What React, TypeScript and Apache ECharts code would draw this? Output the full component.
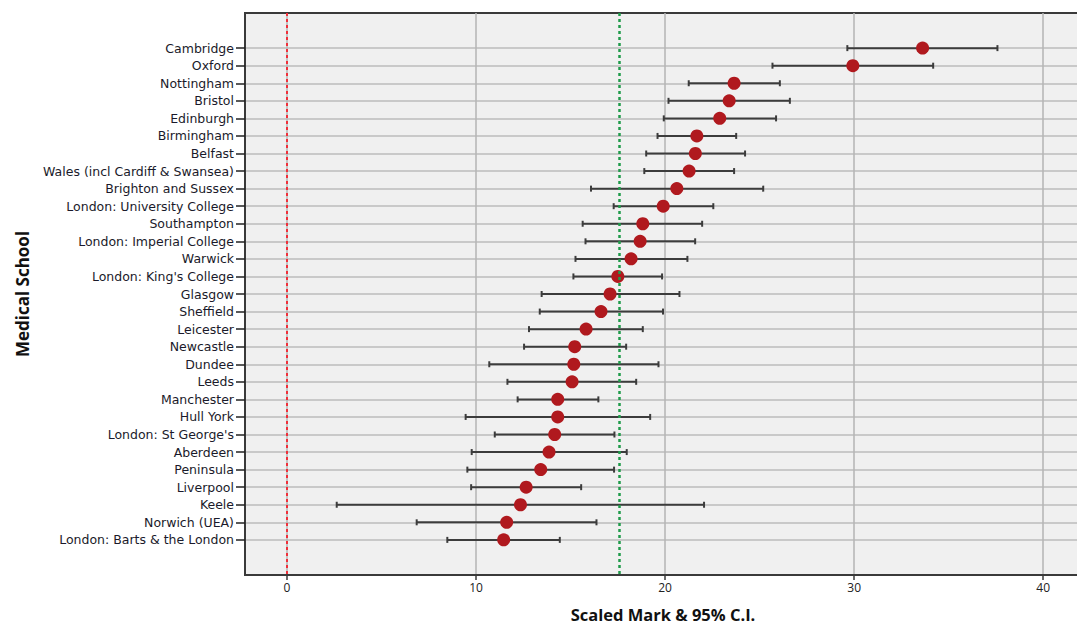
import React, { useEffect, useRef } from "react";
import * as echarts from "echarts";

const schools = [
  "Cambridge",
  "Oxford",
  "Nottingham",
  "Bristol",
  "Edinburgh",
  "Birmingham",
  "Belfast",
  "Wales (incl Cardiff & Swansea)",
  "Brighton and Sussex",
  "London: University College",
  "Southampton",
  "London: Imperial College",
  "Warwick",
  "London: King's College",
  "Glasgow",
  "Sheffield",
  "Leicester",
  "Newcastle",
  "Dundee",
  "Leeds",
  "Manchester",
  "Hull York",
  "London: St George's",
  "Aberdeen",
  "Peninsula",
  "Liverpool",
  "Keele",
  "Norwich (UEA)",
  "London: Barts & the London",
];

const means = [
  33.62, 29.93, 23.65, 23.39, 22.89, 21.68, 21.6, 21.27, 20.62, 19.9, 18.82,
  18.68, 18.2, 17.5, 17.09, 16.61, 15.82, 15.22, 15.17, 15.08, 14.32, 14.32,
  14.16, 13.86, 13.42, 12.65, 12.35, 11.62, 11.46,
];

const lower = [
  29.64, 25.68, 21.25, 20.18, 19.93, 19.6, 19.0, 18.9, 16.08, 17.28, 15.64,
  15.79, 15.26, 15.15, 13.47, 13.37, 12.8, 12.54, 10.7, 11.66, 12.2, 9.45,
  10.99, 9.77, 9.54, 9.74, 2.63, 6.86, 8.48,
];

const upper = [
  37.58, 34.18, 26.07, 26.6, 25.87, 23.76, 24.23, 23.65, 25.19, 22.55, 21.96,
  21.59, 21.18, 19.84, 20.76, 19.89, 18.82, 17.94, 19.65, 18.47, 16.47, 19.21,
  17.32, 17.97, 17.3, 15.56, 22.06, 16.37, 14.43,
];

const referenceLines = { zero: 0, overallMean: 17.58 };

const padTop = ["__pad_a", "__pad_b"];
const padBottom = ["__pad_c", "__pad_d"];

export default function App() {
  const ref = useRef<HTMLDivElement>(null);

  useEffect(() => {
    if (!ref.current) return;
    const chart = echarts.init(ref.current, undefined, { renderer: "svg" });
    const categories = [...padTop, ...schools, ...padBottom];
    const offset = padTop.length;
    const isPad = (v: string) => typeof v === "string" && v.startsWith("__pad");

    const ciData = schools.map((_, i) => [lower[i], upper[i], i + offset]);
    const meanData = schools.map((_, i) => [means[i], i + offset]);

    const labelFont = "'Lucida Grande', 'DejaVu Sans', sans-serif";

    chart.setOption({
      animation: false,
      backgroundColor: "#ffffff",
      grid: {
        left: 245,
        right: -4,
        top: 13,
        bottom: 52,
        outerBoundsMode: "none",
        containLabel: false,
        show: true,
        backgroundColor: "#f0f0f0",
        borderColor: "#3a3a3a",
        borderWidth: 2,
      },
      xAxis: {
        type: "value",
        min: -2.222,
        max: 42,
        splitNumber: 5,
        name: "Scaled Mark & 95% C.I.",
        nameLocation: "middle",
        nameGap: 30,
        nameMoveOverlap: false,
        nameTextStyle: {
          fontFamily: "'Open Sans', sans-serif",
          fontWeight: "bold",
          fontSize: 16.5,
          lineHeight: 18,
          color: "#111",
        },
        axisLine: { show: true, onZero: false, lineStyle: { color: "#3a3a3a", width: 2 } },
        axisTick: { show: true, length: 5, lineStyle: { color: "#3a3a3a", width: 1.5 } },
        axisLabel: {
          fontFamily: "'Open Sans', sans-serif",
          fontSize: 12,
          color: "#222",
          margin: 6,
          showMinLabel: false,
          showMaxLabel: false,
          formatter: (v: number) => (Math.abs(v % 10) < 1e-9 ? String(v) : ""),
        },
        splitLine: { show: true, lineStyle: { color: "#b4b4b4", width: 1.5 } },
      },
      yAxis: {
        type: "category",
        data: categories,
        inverse: true,
        boundaryGap: false,
        name: "Medical School",
        nameLocation: "middle",
        nameGap: 214,
        nameRotate: 90,
        nameMoveOverlap: false,
        nameTextStyle: {
          fontFamily: "'Open Sans', sans-serif",
          fontWeight: "bold",
          fontSize: 17,
          color: "#111",
        },
        axisLine: { show: true, onZero: false, lineStyle: { color: "#3a3a3a", width: 2 } },
        axisTick: {
          show: true,
          length: 9,
          interval: (_i: number, v: string) => !isPad(v),
          lineStyle: { color: "#222", width: 1.5 },
        },
        axisLabel: {
          interval: 0,
          margin: 11,
          fontFamily: labelFont,
          fontSize: 12.5,
          color: "#1a1a2a",
          formatter: (v: string) => (isPad(v) ? "" : v),
        },
        splitLine: {
          show: true,
          interval: (_i: number, v: string) => !isPad(v),
          lineStyle: { color: "#bdbdbd", width: 1.5 },
        },
      },
      series: [
        {
          type: "custom",
          z: 2,
          encode: { x: [0, 1], y: 2 },
          data: ciData,
          renderItem: (_params: any, api: any) => {
            const p1 = api.coord([api.value(0), api.value(2)]);
            const p2 = api.coord([api.value(1), api.value(2)]);
            const style = { stroke: "#3c3c3c", lineWidth: 2 };
            return {
              type: "group",
              children: [
                { type: "line", shape: { x1: p1[0], y1: p1[1], x2: p2[0], y2: p2[1] }, style },
                { type: "line", shape: { x1: p1[0], y1: p1[1] - 3, x2: p1[0], y2: p1[1] + 3 }, style },
                { type: "line", shape: { x1: p2[0], y1: p2[1] - 3, x2: p2[0], y2: p2[1] + 3 }, style },
              ],
            };
          },
        },
        {
          type: "scatter",
          z: 3,
          symbol: "circle",
          symbolSize: 13,
          itemStyle: { color: "#b0191e", opacity: 1 },
          data: meanData,
        },
        {
          type: "line",
          z: 4,
          data: [],
          markLine: {
            silent: true,
            symbol: "none",
            label: { show: false },
            data: [
              {
                xAxis: referenceLines.zero,
                lineStyle: { color: "#f0303a", width: 2, type: [3, 3] },
              },
              {
                xAxis: referenceLines.overallMean,
                lineStyle: { color: "#1f9a4a", width: 2.5, type: [3, 3] },
              },
            ],
          },
        },
      ],
    });

    return () => chart.dispose();
  }, []);

  return <div ref={ref} style={{ width: 1077, height: 627, position: "absolute", left: 0, top: 0 }} />;
}
